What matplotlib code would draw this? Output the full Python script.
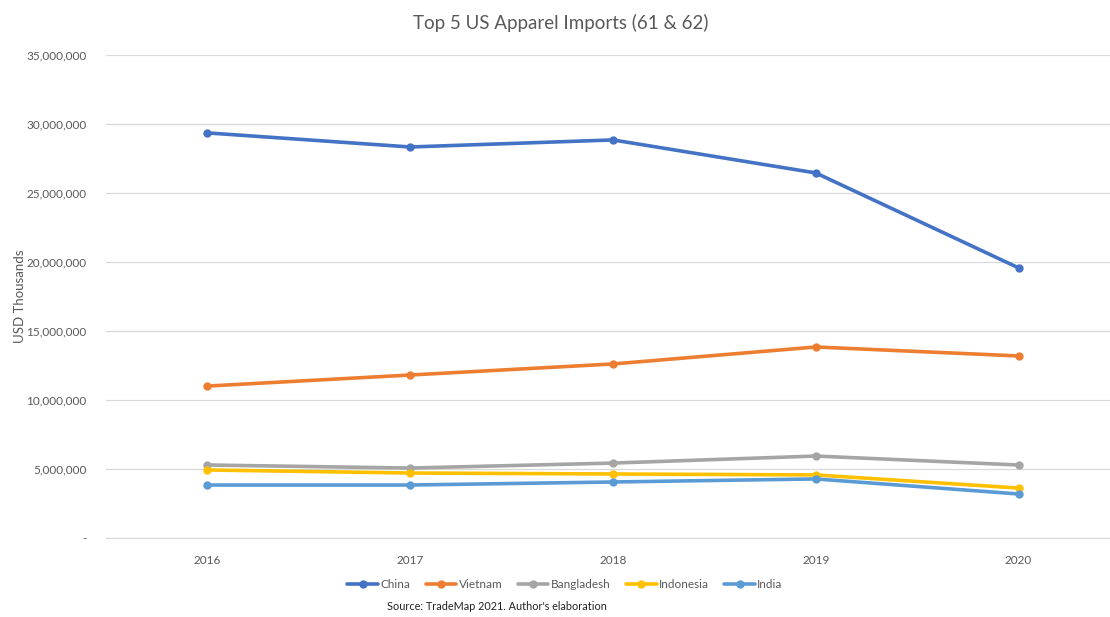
import matplotlib.pyplot as plt
from matplotlib.ticker import FuncFormatter

# Data (USD thousands)
years = ["2016", "2017", "2018", "2019", "2020"]
china = [29350000, 28330000, 28840000, 26450000, 19570000]
vietnam = [11010000, 11810000, 12610000, 13840000, 13190000]
bangladesh = [5290000, 5070000, 5430000, 5940000, 5290000]
indonesia = [4930000, 4710000, 4640000, 4570000, 3620000]
india = [3840000, 3840000, 4060000, 4280000, 3190000]

series = [
    ("China", china, "#4472C4"),
    ("Vietnam", vietnam, "#ED7D31"),
    ("Bangladesh", bangladesh, "#A5A5A5"),
    ("Indonesia", indonesia, "#FFC000"),
    ("India", india, "#5B9BD5"),
]

plt.rcParams["font.family"] = ["Lato", "DejaVu Sans"]
text_color = "#595959"

fig = plt.figure(figsize=(11.1, 6.17), dpi=100)
ax = fig.add_axes([0.0955, 0.128, 0.9135, 0.783])

x = list(range(len(years)))
for name, vals, color in series:
    ax.plot(x, vals, "-o", color=color, lw=2.6, ms=5, label=name,
            solid_capstyle="round")

ax.set_xlim(-0.5, 4.5)
ax.set_ylim(0, 35000000)
ax.set_yticks(range(0, 35000001, 5000000))
ax.yaxis.set_major_formatter(FuncFormatter(lambda v, p: "-" if v == 0 else f"{int(v):,}"))
ax.set_xticks(x)
ax.set_xticklabels(years)

ax.grid(axis="y", color="#D9D9D9", lw=0.9)
ax.set_axisbelow(True)
for s in ["top", "right", "left"]:
    ax.spines[s].set_visible(False)
ax.spines["bottom"].set_color("#D9D9D9")
ax.tick_params(length=0, colors=text_color, labelsize=8.5)
ax.tick_params(axis="x", pad=12)
ax.tick_params(axis="y", pad=14)

ax.set_ylabel("USD Thousands", color=text_color, fontsize=9.5, labelpad=0)
fig.text(0.505, 0.963, "Top 5 US Apparel Imports (61 & 62)", ha="center", va="center",
         fontsize=13.5, color=text_color)

fig.legend(loc="center", bbox_to_anchor=(0.509, 0.052), ncol=5, frameon=False,
           fontsize=8.5, labelcolor=text_color, handlelength=2.6, handletextpad=0.2,
           columnspacing=1.3)
fig.text(0.448, 0.008, "Source: TradeMap 2021. Author's elaboration", ha="center",
         va="bottom", fontsize=7.8, color="#222222")

fig.savefig("out.png", dpi=100)
